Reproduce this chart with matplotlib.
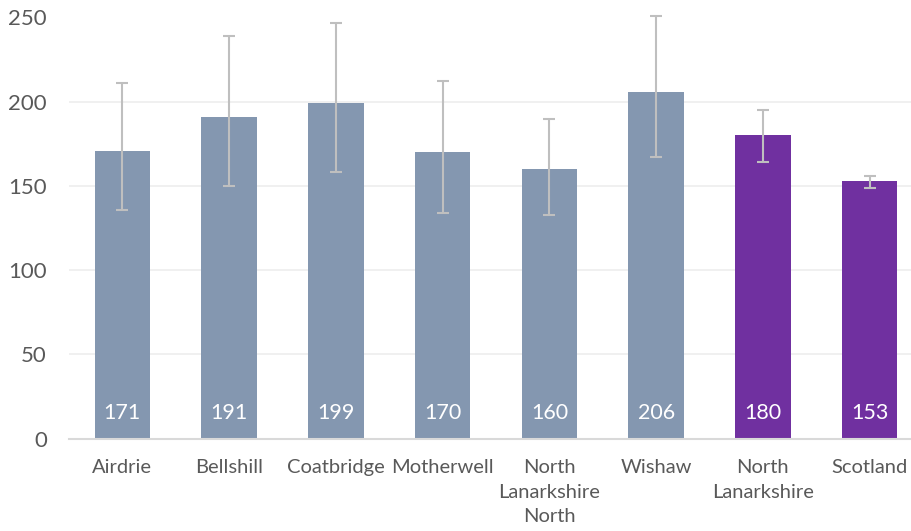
import matplotlib
matplotlib.use("Agg")
import matplotlib.pyplot as plt
import numpy as np

categories = ["Airdrie", "Bellshill", "Coatbridge", "Motherwell",
              "North\nLanarkshire\nNorth", "Wishaw", "North\nLanarkshire", "Scotland"]
values = [171, 191, 199, 170, 160, 206, 180, 153]
ci_lower = [136, 150, 158.5, 134, 133, 167, 164.5, 149]
ci_upper = [211, 239, 246.5, 212.5, 190, 251, 195, 156]
bar_colors = ["#8497B0"] * 6 + ["#7030A0"] * 2
yticks = [0, 50, 100, 150, 200, 250]

plt.rcParams['font.family'] = ['Lato', 'DejaVu Sans']

W, H = 912, 531
fig = plt.figure(figsize=(W / 100, H / 100), dpi=100)
left_px, right_px, top_px, bottom_px = 69, 923, 17.5, 438.7
ax = fig.add_axes([left_px / W, 1 - bottom_px / H,
                   (right_px - left_px) / W, (bottom_px - top_px) / H])

x = np.arange(len(categories))
ax.bar(x, values, width=0.52, color=bar_colors, zorder=2)

vals = np.array(values)
yerr = np.array([vals - np.array(ci_lower), np.array(ci_upper) - vals])
ax.errorbar(x, vals, yerr=yerr, fmt='none', ecolor="#BFBFBF", elinewidth=1.5,
            capsize=4.5, capthick=1.5, zorder=3, clip_on=False)

for xi, v in zip(x, values):
    ax.annotate(str(v), (xi, 0), xytext=(0, 18.5), textcoords='offset points',
                ha='center', va='center', color='white', fontsize=15.5, zorder=4)

ax.set_xlim(-0.5, len(categories) - 0.5)
ax.set_ylim(0, 250)
ax.set_yticks(yticks)
ax.set_yticklabels([str(t) for t in yticks])
ax.set_xticks(x)
ax.set_xticklabels(categories, linespacing=1.55)
ax.grid(axis='y', color="#EFEFEF", linewidth=1.3, zorder=0)
ax.set_axisbelow(True)
for s in ['top', 'right', 'left']:
    ax.spines[s].set_visible(False)
ax.spines['bottom'].set_color("#D9D9D9")
ax.spines['bottom'].set_linewidth(1.5)
ax.tick_params(axis='y', length=0, pad=16, labelsize=16, labelcolor="#595959")
ax.tick_params(axis='x', length=0, pad=14.5, labelsize=14.5, labelcolor="#595959")
for lbl in ax.get_xticklabels():
    lbl.set_verticalalignment('top')

fig.savefig("out.png", dpi=100)
